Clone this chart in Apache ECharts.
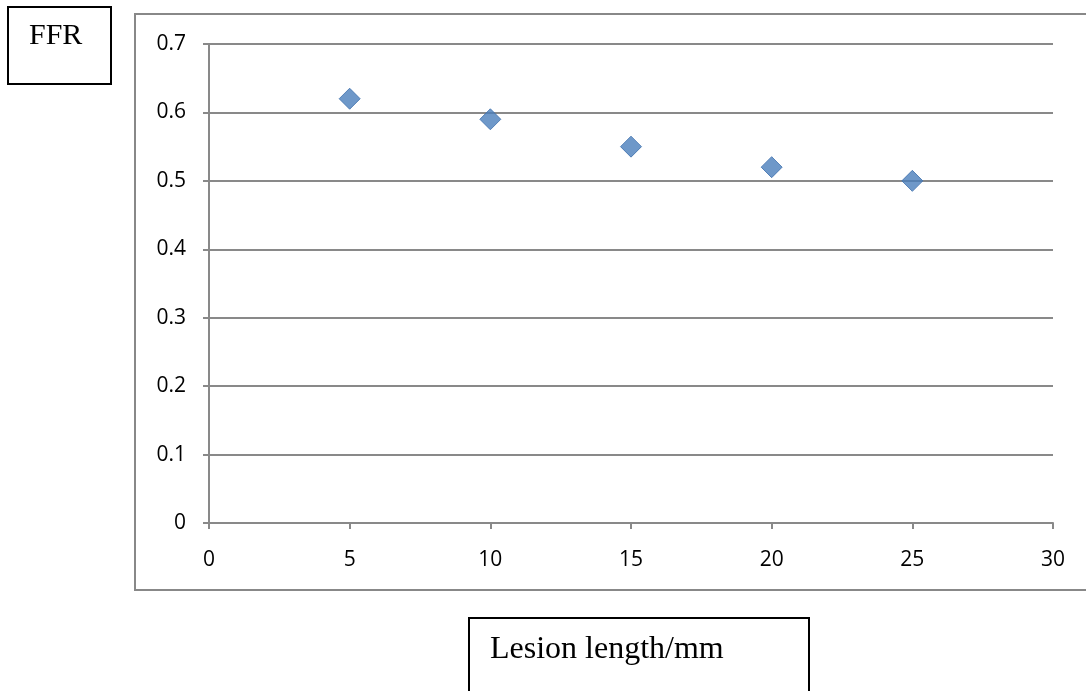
<!DOCTYPE html>
<html>
<head>
<meta charset="utf-8">
<script src="https://cdn.jsdelivr.net/npm/echarts@6/dist/echarts.min.js"></script>
<style>
  html, body { margin: 0; padding: 0; background: #fff; }
  #chart { width: 1086px; height: 691px; }
</style>
</head>
<body>
<div id="chart"></div>
<script>
// Lesion length (mm) against FFR
const lesionLength = [5, 10, 15, 20, 25];
const ffrValues = [0.62, 0.59, 0.55, 0.52, 0.50];
const yAxisTitle = 'FFR';
const xAxisTitle = 'Lesion length/mm';

const chart = echarts.init(document.getElementById('chart'));
const gridColor = '#898989';
const tickFont = { fontFamily: '"Open Sans", "Noto Sans", sans-serif', fontSize: 21, color: '#000' };
const serif = '"Liberation Serif", "DejaVu Serif", serif';

chart.setOption({
  animation: false,
  backgroundColor: '#fff',
  grid: { left: 209, top: 44, width: 844, height: 479, containLabel: false },
  xAxis: {
    type: 'value', min: 0, max: 30, interval: 5,
    axisLine: { show: true, lineStyle: { color: gridColor, width: 2 } },
    axisTick: { show: true, length: 6, lineStyle: { color: gridColor, width: 2 } },
    axisLabel: Object.assign({ margin: 27 }, tickFont),
    splitLine: { show: false }
  },
  yAxis: {
    type: 'value', min: 0, max: 0.7, interval: 0.1,
    axisLine: { show: true, lineStyle: { color: gridColor, width: 2 } },
    axisTick: { show: true, length: 6, lineStyle: { color: gridColor, width: 2 } },
    axisLabel: Object.assign({ margin: 23, formatter: v => String(Math.round(v * 10) / 10) }, tickFont),
    splitLine: { show: true, lineStyle: { color: gridColor, width: 2 } }
  },
  series: [{
    type: 'scatter',
    symbol: 'diamond',
    symbolSize: [21, 21],
    itemStyle: { color: '#4a7ebb', borderColor: '#3d6fad', borderWidth: 1 },
    data: lesionLength.map((x, i) => [x, ffrValues[i]])
  }],
  graphic: [
    {
      type: 'rect', z: -1, silent: true,
      shape: { x: 135, y: 14, width: 960, height: 576 },
      style: { fill: null, stroke: '#888', lineWidth: 2 }
    },
    {
      type: 'rect', silent: true,
      shape: { x: 8, y: 7, width: 103, height: 77 },
      style: { fill: '#fff', stroke: '#000', lineWidth: 2 }
    },
    {
      type: 'text', silent: true, left: 29, top: 21,
      style: { text: yAxisTitle, font: '30px ' + serif, fill: '#000' }
    },
    {
      type: 'rect', silent: true,
      shape: { x: 469, y: 618, width: 340, height: 90 },
      style: { fill: '#fff', stroke: '#000', lineWidth: 2 }
    },
    {
      type: 'text', silent: true, left: 490, top: 634,
      style: { text: xAxisTitle, font: '32px ' + serif, fill: '#000' }
    }
  ]
});
</script>
</body>
</html>
